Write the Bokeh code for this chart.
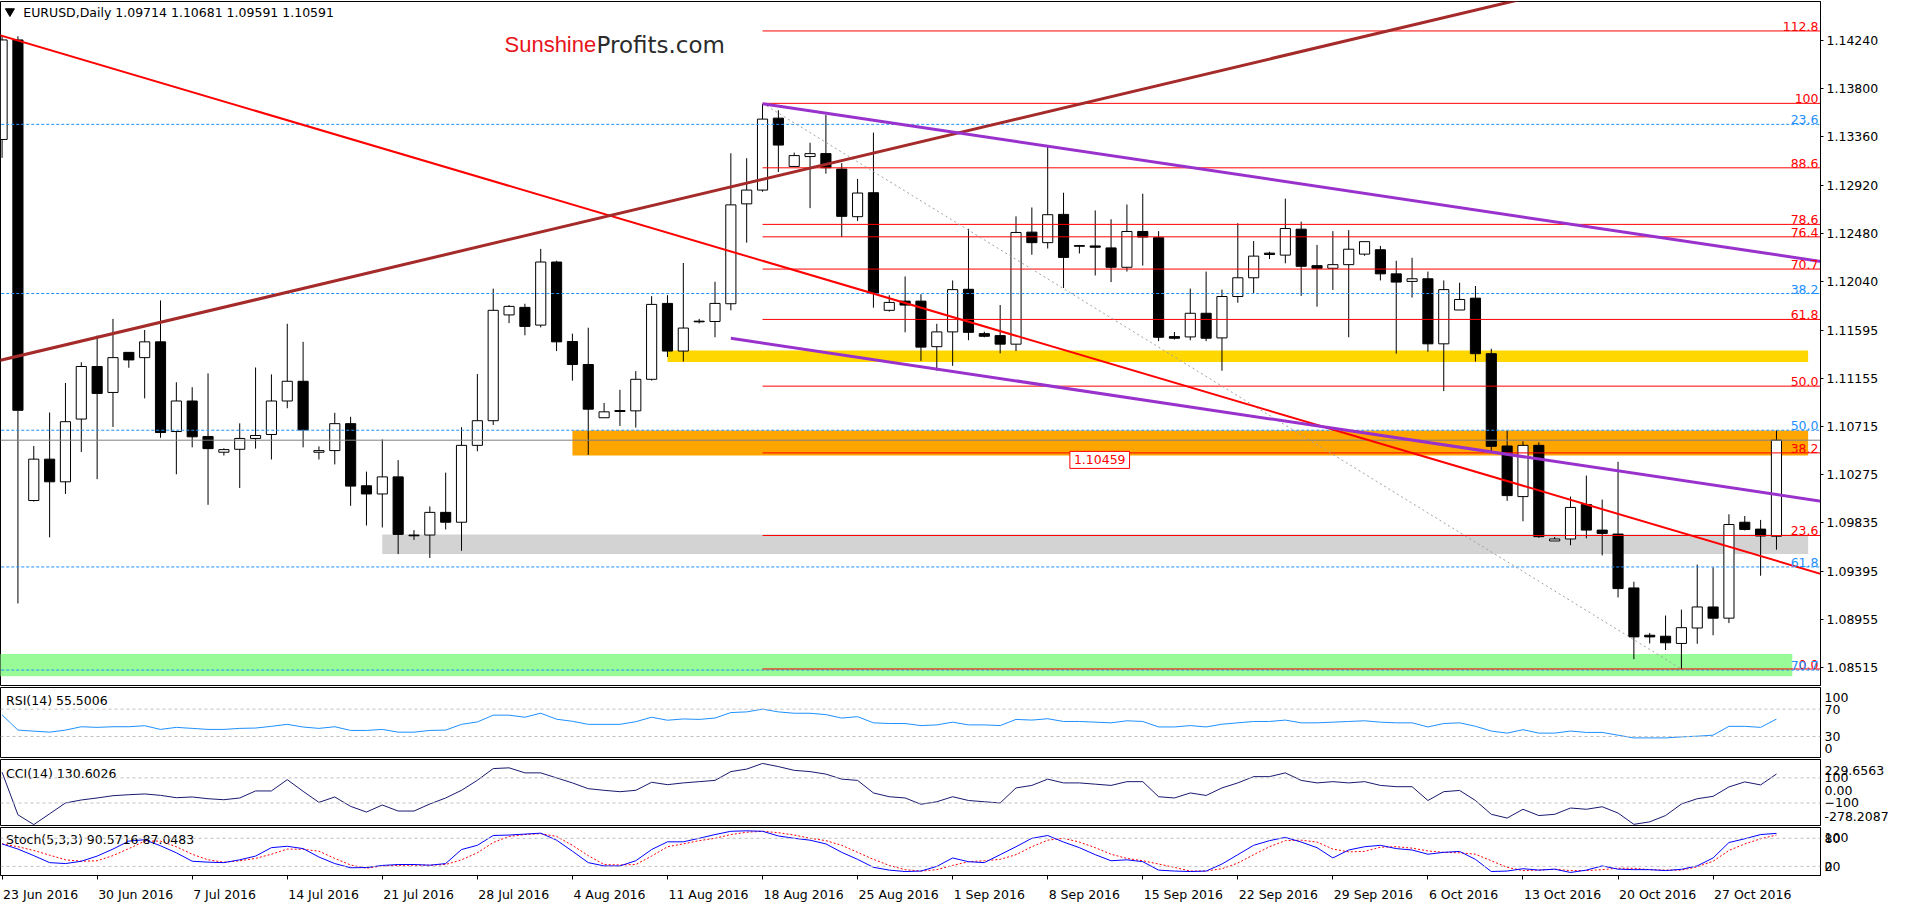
from bokeh.plotting import figure
from bokeh.models import Range1d, FixedTicker, PrintfTickFormatter, Label, Span, LinearAxis, ColumnDataSource
from bokeh.layouts import column
from bokeh.embed import file_html
from bokeh.resources import INLINE
from bokeh.core.properties import value

# ---------------- data ----------------
opens = [1.13337, 1.14246, 1.10040, 1.10418, 1.10211, 1.10784, 1.11264, 1.11027, 1.11393, 1.11345,
         1.11489, 1.10670, 1.10949, 1.10625, 1.10481, 1.10508, 1.10607, 1.10643, 1.10949, 1.11129,
         1.10481, 1.10496, 1.10742, 1.10175, 1.10100, 1.10256, 1.09725, 1.09725, 1.09932, 1.09842,
         1.10544, 1.10769, 1.11735, 1.11804, 1.11642, 1.12218, 1.11492, 1.11282, 1.10796, 1.10862,
         1.10859, 1.11147, 1.11840, 1.11405, 1.11678, 1.11675, 1.11837, 1.12749, 1.12875, 1.13532,
         1.13091, 1.13181, 1.13208, 1.13067, 1.12632, 1.12851, 1.11777, 1.11861, 1.11861, 1.11445,
         1.11580, 1.11969, 1.11564, 1.11546, 1.11468, 1.12491, 1.12395, 1.12653, 1.12368, 1.12365,
         1.12347, 1.12170, 1.12497, 1.12440, 1.11537, 1.11534, 1.11750, 1.11525, 1.11903, 1.12074,
         1.12299, 1.12281, 1.12518, 1.12185, 1.12161, 1.12194, 1.12290, 1.12330, 1.12110, 1.12041,
         1.12065, 1.11471, 1.11780, 1.11888, 1.11381, 1.10538, 1.10076, 1.10544, 1.09671, 1.09689,
         1.10004, 1.09770, 1.09734, 1.09242, 1.08810, 1.08801, 1.08735, 1.08876, 1.09068, 1.08966,
         1.09842, 1.09779, 1.09714]
highs = [1.14280, 1.14280, 1.10538, 1.10844, 1.11114, 1.11303, 1.11546, 1.11699, 1.11393, 1.11597,
         1.11867, 1.11120, 1.11075, 1.11201, 1.10517, 1.10745, 1.11255, 1.11192, 1.11654, 1.11489,
         1.10535, 1.10841, 1.10805, 1.10304, 1.10598, 1.10409, 1.09770, 1.09986, 1.10295, 1.10709,
         1.11195, 1.11975, 1.11825, 1.11837, 1.12338, 1.12230, 1.11564, 1.11618, 1.10931, 1.11051,
         1.11222, 1.11906, 1.11915, 1.12209, 1.11699, 1.12038, 1.13211, 1.13166, 1.13661, 1.13604,
         1.13217, 1.13307, 1.13562, 1.13121, 1.12977, 1.13400, 1.11915, 1.12086, 1.11924, 1.11654,
         1.12050, 1.12521, 1.11582, 1.11825, 1.12635, 1.12716, 1.13278, 1.12851, 1.12374, 1.12689,
         1.12608, 1.12743, 1.12842, 1.12500, 1.11579, 1.11975, 1.12131, 1.11966, 1.12572, 1.12410,
         1.12311, 1.12797, 1.12587, 1.12374, 1.12500, 1.12509, 1.12404, 1.12365, 1.12230, 1.12257,
         1.12131, 1.12050, 1.12029, 1.11999, 1.11426, 1.10676, 1.10580, 1.10571, 1.09707, 1.10076,
         1.10268, 1.10049, 1.10394, 1.09299, 1.08831, 1.08990, 1.09044, 1.09455, 1.09431, 1.09914,
         1.09899, 1.09863, 1.10681]
lows = [1.13169, 1.09100, 1.10031, 1.09704, 1.10100, 1.10484, 1.10235, 1.10712, 1.11252, 1.10973,
        1.10613, 1.10280, 1.10526, 1.10001, 1.10451, 1.10154, 1.10514, 1.10415, 1.10883, 1.10526,
        1.10415, 1.10370, 1.09992, 1.09812, 1.09794, 1.09551, 1.09680, 1.09515, 1.09776, 1.09581,
        1.10490, 1.10730, 1.11660, 1.11549, 1.11621, 1.11405, 1.11135, 1.10457, 1.10796, 1.10721,
        1.10706, 1.11135, 1.11351, 1.11309, 1.11657, 1.11531, 1.11777, 1.12395, 1.12860, 1.13040,
        1.13091, 1.12710, 1.13025, 1.12446, 1.12593, 1.11801, 1.11765, 1.11576, 1.11315, 1.11225,
        1.11270, 1.11504, 1.11531, 1.11384, 1.11405, 1.12284, 1.12341, 1.11981, 1.12296, 1.12095,
        1.12035, 1.12131, 1.12185, 1.11495, 1.11510, 1.11504, 1.11495, 1.11225, 1.11846, 1.11936,
        1.12245, 1.12206, 1.11909, 1.11810, 1.11963, 1.11531, 1.12275, 1.12050, 1.11381, 1.11894,
        1.11399, 1.11039, 1.11780, 1.11309, 1.10490, 1.10037, 1.09851, 1.09700, 1.09671, 1.09632,
        1.09695, 1.09539, 1.09155, 1.08591, 1.08735, 1.08675, 1.08501, 1.08732, 1.08810, 1.08921,
        1.09767, 1.09353, 1.09591]
closes = [1.14246, 1.10864, 1.10418, 1.10211, 1.10760, 1.11264, 1.11018, 1.11345, 1.11324, 1.11489,
          1.10661, 1.10949, 1.10622, 1.10514, 1.10505, 1.10607, 1.10634, 1.10949, 1.11129, 1.10685,
          1.10496, 1.10742, 1.10172, 1.10100, 1.10256, 1.09731, 1.09718, 1.09932, 1.09842, 1.10544,
          1.10769, 1.11777, 1.11813, 1.11630, 1.12218, 1.11489, 1.11282, 1.10874, 1.10850, 1.10853,
          1.11147, 1.11831, 1.11405, 1.11615, 1.11672, 1.11840, 1.12740, 1.12875, 1.13523, 1.13286,
          1.13190, 1.13208, 1.13079, 1.12635, 1.12848, 1.11936, 1.11849, 1.11825, 1.11441, 1.11580,
          1.11966, 1.11576, 1.11540, 1.11468, 1.12488, 1.12395, 1.12650, 1.12260, 1.12362, 1.12353,
          1.12170, 1.12497, 1.12446, 1.11531, 1.11522, 1.11750, 1.11522, 1.11903, 1.12074, 1.12272,
          1.12287, 1.12524, 1.12179, 1.12161, 1.12194, 1.12335, 1.12404, 1.12110, 1.12035, 1.12065,
          1.11471, 1.11966, 1.11876, 1.11381, 1.10535, 1.10085, 1.10544, 1.09710, 1.09689, 1.09977,
          1.09770, 1.09740, 1.09236, 1.08795, 1.08795, 1.08741, 1.08879, 1.09068, 1.08966, 1.09821,
          1.09776, 1.09716, 1.10591]

rsi = [61.6, 39.4, 37.9, 36.4, 39.4, 44.3, 43.4, 44.3, 44.3, 45.8,
       40.4, 43.4, 41.9, 40.4, 40.4, 41.9, 42.4, 44.9, 47.8, 43.9,
       41.9, 44.3, 38.9, 38.9, 40.4, 36.4, 36.4, 38.9, 39.4, 47.8,
       51.3, 61.2, 61.2, 58.2, 64.1, 55.3, 52.3, 47.8, 47.8, 47.8,
       51.7, 58.2, 53.8, 55.7, 55.0, 57.0, 65.0, 66.0, 70.0, 66.0,
       64.0, 64.0, 62.0, 57.0, 59.0, 50.0, 49.0, 49.0, 46.0, 47.0,
       51.0, 47.0, 47.0, 46.0, 55.0, 54.0, 56.0, 52.0, 52.0, 51.0,
       50.0, 53.0, 52.0, 44.0, 44.0, 46.0, 44.0, 48.0, 50.0, 52.0,
       52.0, 54.0, 50.0, 50.0, 51.0, 52.0, 53.0, 51.0, 50.0, 50.0,
       44.0, 49.0, 50.0, 45.0, 38.0, 35.0, 40.0, 35.0, 35.0, 38.0,
       36.0, 36.0, 32.0, 28.0, 28.0, 28.0, 29.5, 30.5, 32.0, 44.9,
       44.9, 43.4, 55.5006]
cci = [145, -194, -272, -186, -100, -76, -60, -42, -34, -28,
       -39, -58, -52, -66, -74, -60, -4, -4, 86, -7,
       -95, -52, -127, -172, -116, -164, -164, -108, -60, 1,
       81, 174, 180, 140, 140, 100, 60, 14, 1, -10,
       1, 65, 46, 60, 70, 80, 150, 170, 215, 190,
       160, 150, 130, 90, 80, -20, -50, -60, -110, -90,
       -50, -80, -90, -100, 20, 40, 90, 60, 60, 50,
       40, 70, 70, -50, -60, -20, -40, 20, 60, 110,
       110, 140, 80, 60, 70, 60, 70, 40, 30, 30,
       -80, -10, 0, -80, -190, -220, -150, -200, -190, -140,
       -150, -130, -180, -270, -250, -200, -108, -66, -47, 28,
       68, 44, 130.6026]
stoch_main = [68, 57, 43, 28, 26, 31, 42, 57, 74, 77,
              64, 49, 31, 29, 28, 34, 42, 60, 63, 58,
              40, 26, 17, 17.5, 22, 24, 24, 22.5, 26, 56,
              65, 86, 87, 89, 91, 76, 52.5, 28, 21, 21,
              32, 56, 72.5, 72.5, 80, 88, 95, 96, 95, 85,
              80, 76, 68, 50, 35, 18, 12, 9, 10, 20,
              38, 30, 28, 45, 62, 80, 86, 72, 60, 45,
              32, 34, 30, 12, 10, 9, 10, 25, 45, 65,
              75, 82, 72, 60, 38, 55, 62, 65, 58, 55,
              46, 50, 52, 35, 9, 10, 15, 12, 14, 7,
              12, 21, 14, 13, 13, 11, 13.7, 21, 38, 71,
              79, 88, 90.5716]
stoch_signal = [68, 62, 54, 44, 34, 31, 32, 43, 58, 74,
                74, 62, 46, 34, 29, 32, 37, 46, 57, 56.5,
                52.5, 37, 23, 16, 21, 22, 22.5, 22.5, 24, 34,
                49, 71, 84, 88, 90, 84, 65, 43, 24, 23,
                24, 42, 62, 68, 75, 80, 88, 93, 95, 92,
                87, 80, 75, 65, 50, 35, 22, 13, 10, 13,
                22, 30, 32, 35, 45, 62, 76, 80, 72, 60,
                46, 37, 32, 25, 18, 10, 10, 15, 27, 45,
                62, 75, 76, 72, 57, 51, 52, 61, 62, 59,
                53, 50, 49, 46, 32, 18, 11, 12, 14, 11,
                11, 13, 16, 16, 13, 12, 12, 19, 31, 54,
                68, 79, 87.0483]

price_ticks = [1.14240, 1.13800, 1.13360, 1.12920, 1.12480, 1.12040, 1.11595,
               1.11155, 1.10715, 1.10275, 1.09835, 1.09395, 1.08955, 1.08515]
date_tick_bars = [0, 6, 12, 18, 24, 30, 36, 42, 48, 54, 60, 66, 72, 78, 84, 90, 96, 102, 108]
date_tick_labels = ["23 Jun 2016", "30 Jun 2016", "7 Jul 2016", "14 Jul 2016", "21 Jul 2016",
                    "28 Jul 2016", "4 Aug 2016", "11 Aug 2016", "18 Aug 2016", "25 Aug 2016",
                    "1 Sep 2016", "8 Sep 2016", "15 Sep 2016", "22 Sep 2016", "29 Sep 2016",
                    "6 Oct 2016", "13 Oct 2016", "20 Oct 2016", "27 Oct 2016"]

# red Fibonacci retracement (0 -> 100), drawn from bar 48 to the right
fib_levels = [0.0, 23.6, 38.2, 50.0, 61.8, 70.7, 76.4, 78.6, 88.6, 100.0, 112.8]
fib_labels = ["0.0", "23.6", "38.2", "50.0", "61.8", "70.7", "76.4", "78.6", "88.6", "100", "112.8"]
fib_price_0 = 1.08502
fib_price_100 = 1.13667
fib_start_bar = 48
# blue Fibonacci levels (dashed, across the chart)
bfib_levels = [23.6, 38.2, 50.0, 61.8, 70.7]
bfib_labels = ["23.6", "38.2", "50.0", "61.8", "70.7"]
bfib_price_0 = 1.15972
bfib_price_100 = 1.05392

# support / resistance zones
zone_x0 = [-1, 24, 36, 42]
zone_x1 = [113, 114, 114, 114]
zone_top = [1.08639, 1.09731, 1.10679, 1.11411]
zone_bottom = [1.08435, 1.09551, 1.10451, 1.11306]
zone_color = ["#98fb98", "#d3d3d3", "#ffa500", "#ffd700"]

# trend lines (anchor points: bar index, price)
trend_x0 = [-1, -1, 48, 46]
trend_y0 = [1.14326, 1.11290, 1.13664, 1.11522]
trend_x1 = [116, 116, 116, 116]
trend_y1 = [1.09319, 1.15308, 1.12198, 1.10008]
trend_color = ["#ff0000", "#a52a2a", "#9932cc", "#9932cc"]
trend_width = [2, 3, 3, 3]
diag_x = [48, 106]
diag_y = [1.13667, 1.08502]

last_price = 1.10591
marker_price_text = "1.10459"

# ---------------- layout helpers ----------------
FONT = "DejaVu Sans"
FS = "12.5px"
W = 1892
RB = 72
XR = Range1d(-0.1, 114.78)
PPB = (W - RB) / (114.78 + 0.1)


def bx(px):   # reference pixel -> bar position
    return (px - 3.6) / 16.0


def py(pix):  # reference pixel -> price
    return 1.14615 - 0.00009002 * pix


def make_fig(h, yr, top=1, bottom=1, xaxis=False):
    p = figure(width=W, height=h, x_range=XR, y_range=yr, output_backend="svg",
               toolbar_location=None, tools="", y_axis_location="right",
               x_axis_location=("below" if xaxis else None),
               min_border_left=0, min_border_right=RB, min_border_top=top, min_border_bottom=bottom)
    p.xgrid.visible = False
    p.ygrid.visible = False
    p.outline_line_color = "black"
    p.outline_line_alpha = 1.0
    p.background_fill_color = "white"
    p.border_fill_color = "white"
    ax = p.yaxis[0]
    ax.major_label_text_font = FONT
    ax.major_label_text_font_size = FS
    ax.major_label_text_color = "black"
    ax.axis_line_color = "black"
    ax.minor_tick_line_color = None
    ax.major_tick_in = 0
    return p


idx = list(range(len(closes)))

# ---------------- main price panel ----------------
main = make_fig(686, Range1d(1.08351, 1.14597))
ay = main.yaxis[0]
ay.ticker = FixedTicker(ticks=price_ticks)
ay.formatter = PrintfTickFormatter(format="%.5f")
ay.major_tick_out = 3
ay.major_label_standoff = 3

main.quad(left=zone_x0, right=zone_x1, top=zone_top, bottom=zone_bottom,
          fill_color=zone_color, line_color=None)

body_top = [max(o, c) for o, c in zip(opens, closes)]
body_bot = [min(o, c) for o, c in zip(opens, closes)]
body_col = ["white" if c >= o else "black" for o, c in zip(opens, closes)]
csrc = ColumnDataSource(dict(x=idx, o=opens, h=highs, l=lows, c=closes,
                             t=body_top, b=body_bot, col=body_col))
main.segment(x0="x", y0="l", x1="x", y1="h", source=csrc, line_color="black", line_width=1)
main.vbar(x="x", width=0.64, top="t", bottom="b", source=csrc,
          fill_color="col", line_color="black", line_width=1)

# blue fib (dashed)
bfib_prices = [bfib_price_0 + (bfib_price_100 - bfib_price_0) * lv / 100.0 for lv in bfib_levels]
main.segment(x0=[-1] * len(bfib_prices), x1=[116] * len(bfib_prices), y0=bfib_prices, y1=bfib_prices,
             line_color="#1e90ff", line_width=1, line_dash="3 2")
# red fib
fib_prices = [fib_price_0 + (fib_price_100 - fib_price_0) * lv / 100.0 for lv in fib_levels]
main.segment(x0=[fib_start_bar] * len(fib_prices), x1=[116] * len(fib_prices), y0=fib_prices, y1=fib_prices,
             line_color="#ff0000", line_width=1)
# diagonal of the fib
main.line(diag_x, diag_y, line_color="#a0a0a0", line_width=1, line_dash="2 3")
# current price line
main.segment(x0=[-1], x1=[116], y0=[last_price], y1=[last_price], line_color="#808080", line_width=1)
# trend lines
main.segment(x0=trend_x0, y0=trend_y0, x1=trend_x1, y1=trend_y1, line_color=trend_color, line_width=trend_width)

lab_x = 114.78 - 2.0 / PPB
main.text(x=[lab_x] * len(fib_prices), y=fib_prices, text=fib_labels, text_align="right",
          text_baseline="bottom", text_color="#ff0000", text_font=value(FONT), text_font_size=FS)
main.text(x=[lab_x] * len(bfib_prices), y=bfib_prices, text=bfib_labels, text_align="right",
          text_baseline="bottom", text_color="#1e90ff", text_font=value(FONT), text_font_size=FS)

# header
main.scatter(x=[bx(11.5)], y=[py(12)], marker="inverted_triangle", size=9,
             fill_color="black", line_color="black")
main.text(x=[bx(25)], y=[py(13)], text=["EURUSD,Daily  1.09714 1.10681 1.09591 1.10591"],
          text_align="left", text_baseline="middle", text_color="black",
          text_font=value(FONT), text_font_size=FS)
# watermark
main.text(x=[bx(511)], y=[py(46)], text=["Sunshine"], text_align="left", text_baseline="middle",
          text_color="#e8141c", text_font=value("Liberation Sans"), text_font_size="22px")
main.text(x=[bx(604)], y=[py(46)], text=["Profits.com"], text_align="left", text_baseline="middle",
          text_color="#2b2b2b", text_font=value("DejaVu Sans"), text_font_size="23px")

main.add_layout(Label(x=bx(1082), y=py(467), text=marker_price_text, text_align="left",
                      text_baseline="middle", text_color="#ff0000", text_font=FONT,
                      text_font_size=FS, border_line_color="#ff0000", background_fill_color="white",
                      padding=4))
main.add_layout(Label(x=114.78, y=last_price, x_offset=3, text=f"{last_price:.5f}", text_align="left",
                      text_baseline="middle", text_color="white", text_font=FONT,
                      text_font_size=FS, background_fill_color="black", padding=2))

# ---------------- RSI ----------------
rp = make_fig(72, Range1d(-0.6, 101.6))
ra = rp.yaxis[0]
ra.ticker = FixedTicker(ticks=[87, 70, 30, 13])
ra.major_label_overrides = {87: "100", 13: "0"}
ra.major_tick_out = 0
ra.major_label_standoff = 4
for lv in (70, 30):
    rp.add_layout(Span(location=lv, dimension="width", line_color="#c0c0c0", line_dash="3 3", line_width=1))
rp.line(idx, rsi, line_color="#1e90ff", line_width=1)
rp.text(x=[bx(7.6)], y=[82.8], text=["RSI(14) 55.5006"], text_align="left", text_baseline="middle",
        text_color="black", text_font=value(FONT), text_font_size=FS)

# ---------------- CCI ----------------
cp = make_fig(68, Range1d(-279.2, 246.4))
ca = cp.yaxis[0]
ca.ticker = FixedTicker(ticks=[161, 100, 0, -100, -207])
ca.major_label_overrides = {161: "229.6563", 0: "0.00", -207: "-278.2087"}
ca.major_tick_out = 0
ca.major_label_standoff = 4
for lv in (100, -100):
    cp.add_layout(Span(location=lv, dimension="width", line_color="#c0c0c0", line_dash="3 3", line_width=1))
cp.line(idx, cci, line_color="#191970", line_width=1)
cp.text(x=[bx(7.6)], y=[134], text=["CCI(14) 130.6026"], text_align="left", text_baseline="middle",
        text_color="black", text_font=value(FONT), text_font_size=FS)

# ---------------- Stochastic ----------------
sp = make_fig(78, Range1d(0.5, 103.1), bottom=22, xaxis=True)
sa = sp.yaxis[0]
sa.ticker = FixedTicker(ticks=[82, 80, 20, 19])
sa.major_label_overrides = {82: "100", 19: "0"}
sa.major_tick_out = 0
sa.major_label_standoff = 4
for lv in (80, 20):
    sp.add_layout(Span(location=lv, dimension="width", line_color="#c0c0c0", line_dash="3 3", line_width=1))
sp.line(idx, stoch_signal, line_color="#ff0000", line_width=1, line_dash="2 2")
sp.line(idx, stoch_main, line_color="#0000ff", line_width=1)
sp.text(x=[bx(7.6)], y=[77.4], text=["Stoch(5,3,3) 90.5716 87.0483"], text_align="left",
        text_baseline="middle", text_color="black", text_font=value(FONT), text_font_size=FS)

xa = sp.xaxis[0]
xa.ticker = FixedTicker(ticks=date_tick_bars)
xa.major_label_overrides = {b: "" for b in date_tick_bars}
xa.major_label_text_font_size = "0px"
xa.major_tick_out = 4
xa.major_tick_in = 0
xa.minor_tick_line_color = None
xa.major_label_standoff = 0
xa.axis_line_color = "black"

CW = {"0": .636, "1": .636, "2": .636, "3": .636, "4": .636, "5": .636, "6": .636, "7": .636,
      "8": .636, "9": .636, " ": .318, "J": .295, "u": .634, "n": .634, "l": .278, "A": .684,
      "g": .635, "S": .635, "e": .615, "p": .635, "O": .787, "c": .550, "t": .392}
centers = []
for b, t in zip(date_tick_bars, date_tick_labels):
    wpx = sum(CW.get(ch, 0.6) for ch in t) * 12.5
    centers.append(round(b + (1.0 + wpx / 2.0) / PPB, 4))
xa2 = LinearAxis(ticker=FixedTicker(ticks=centers),
                 major_label_overrides={c: t for c, t in zip(centers, date_tick_labels)},
                 major_tick_line_color=None, minor_tick_line_color=None, axis_line_color=None,
                 major_label_standoff=1, major_label_text_font=FONT, major_label_text_font_size=FS,
                 major_label_text_color="black")
sp.add_layout(xa2, "below")

layout = column(main, rp, cp, sp, spacing=0)
open("out.html", "w").write(file_html(layout, INLINE))
